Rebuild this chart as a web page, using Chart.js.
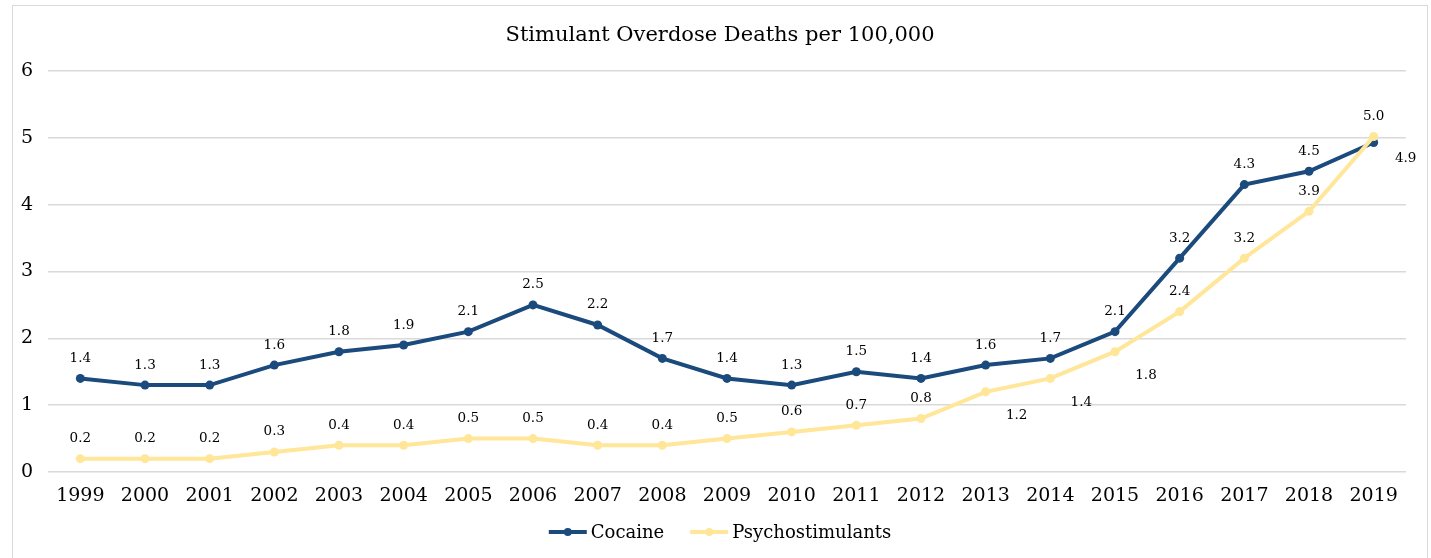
<!DOCTYPE html>
<html>
<head>
<meta charset="utf-8">
<script src="https://cdn.jsdelivr.net/npm/chart.js@4.4.0/dist/chart.umd.min.js"></script>
<style>
  html, body { margin: 0; padding: 0; background: #fff; overflow: hidden; }
  #frame { position: absolute; left: 12px; top: 5px; width: 1416px; height: 600px; border: 1px solid #d9d9d9; box-sizing: border-box; }
  #chart { position: absolute; left: 0; top: 0; }
</style>
</head>
<body>
<div id="frame"></div>
<canvas id="chart" width="1431" height="558"></canvas>
<script>
const years = ['1999', '2000', '2001', '2002', '2003', '2004', '2005', '2006', '2007', '2008',
  '2009', '2010', '2011', '2012', '2013', '2014', '2015', '2016', '2017', '2018', '2019'];
const cocaine = [1.4, 1.3, 1.3, 1.6, 1.8, 1.9, 2.1, 2.5, 2.2, 1.7, 1.4, 1.3, 1.5, 1.4, 1.6, 1.7, 2.1, 3.2, 4.3, 4.5, 4.93];
const psychostimulants = [0.2, 0.2, 0.2, 0.3, 0.4, 0.4, 0.5, 0.5, 0.4, 0.4, 0.5, 0.6, 0.7, 0.8, 1.2, 1.4, 1.8, 2.4, 3.2, 3.9, 5.02];
const yTicks = [0, 1, 2, 3, 4, 5, 6];
const chartTitle = 'Stimulant Overdose Deaths per 100,000';

// where each value label sits relative to its point
const cocaineLabelSide = years.map((y, i) => (i === years.length - 1 ? 'right' : 'above'));
const psychoLabelSide = years.map((y, i) => (i >= 14 && i <= 16 ? 'belowRight' : 'above'));

const NAVY = '#1b4a7d';
const GOLD = '#ffe699';
const SERIF = '"DejaVu Serif", "Liberation Serif", serif';
const FRAME_CENTER = 720; // middle of the bordered box, title and legend sit on it

function legendMarker(ctx, x, y, color) {
  ctx.strokeStyle = color;
  ctx.lineWidth = 4;
  ctx.beginPath();
  ctx.moveTo(x, y);
  ctx.lineTo(x + 38, y);
  ctx.stroke();
  ctx.fillStyle = color;
  ctx.beginPath();
  ctx.arc(x + 19, y, 4, 0, Math.PI * 2);
  ctx.fill();
}

const valueLabels = {
  id: 'valueLabels',
  afterDatasetsDraw(chart) {
    const ctx = chart.ctx;
    const sides = [cocaineLabelSide, psychoLabelSide];
    ctx.save();
    ctx.font = '13.5px ' + SERIF;
    ctx.fillStyle = '#000';
    ctx.textAlign = 'center';
    ctx.textBaseline = 'middle';
    chart.data.datasets.forEach((ds, i) => {
      const meta = chart.getDatasetMeta(i);
      meta.data.forEach((pt, j) => {
        let dx = 0, dy = -20;
        if (sides[i][j] === 'belowRight') { dx = 31; dy = 24; }
        if (sides[i][j] === 'right') { dx = 32; dy = 16; }
        ctx.fillText(ds.data[j].toFixed(1), pt.x + dx, pt.y + dy);
      });
    });
    ctx.restore();
  }
};

// title and legend drawn by hand so they centre on the frame like the original
const frameText = {
  id: 'frameText',
  afterDraw(chart) {
    const ctx = chart.ctx;
    ctx.save();
    ctx.fillStyle = '#000';
    ctx.textBaseline = 'middle';
    ctx.textAlign = 'center';
    ctx.font = '21px ' + SERIF;
    ctx.fillText(chartTitle, FRAME_CENTER, 36);

    ctx.textAlign = 'left';
    ctx.font = '18px ' + SERIF;
    const items = chart.data.datasets.map(ds => ({
      text: ds.label, color: ds.borderColor, w: ctx.measureText(ds.label).width
    }));
    let total = 0;
    items.forEach((it, k) => { total += 38 + 4 + it.w + (k ? 26 : 0); });
    let x = FRAME_CENTER - total / 2;
    const y = 532;
    items.forEach(it => {
      legendMarker(ctx, x, y, it.color);
      ctx.fillStyle = '#000';
      ctx.fillText(it.text, x + 42, y + 1);
      x += 42 + it.w + 26;
    });
    ctx.restore();
  }
};

const ctx = document.getElementById('chart').getContext('2d');
new Chart(ctx, {
  type: 'line',
  data: {
    labels: years,
    datasets: [
      {
        label: 'Cocaine',
        data: cocaine,
        borderColor: NAVY,
        backgroundColor: NAVY,
        pointBackgroundColor: NAVY,
        borderWidth: 4,
        pointRadius: 4.5,
        pointBorderWidth: 0,
        tension: 0,
        order: 1
      },
      {
        label: 'Psychostimulants',
        data: psychostimulants,
        borderColor: GOLD,
        backgroundColor: GOLD,
        pointBackgroundColor: GOLD,
        borderWidth: 4,
        pointRadius: 4.5,
        pointBorderWidth: 0,
        tension: 0,
        order: 0
      }
    ]
  },
  options: {
    responsive: false,
    animation: false,
    devicePixelRatio: 1,
    layout: { padding: { left: 12, right: 25, top: 71, bottom: 51 } },
    plugins: {
      legend: { display: false },
      tooltip: { enabled: false },
      title: { display: false }
    },
    scales: {
      x: {
        offset: true,
        grid: { display: false, drawTicks: false },
        border: { display: false },
        ticks: { color: '#000', font: { family: SERIF, size: 19 }, padding: 13, maxRotation: 0, autoSkip: false },
        afterFit(scale) { scale.height = 35; }
      },
      y: {
        min: 0,
        max: 6,
        afterBuildTicks(scale) { scale.ticks = yTicks.map(v => ({ value: v })); },
        grid: { color: '#d9d9d9', lineWidth: 1.5, drawTicks: false },
        border: { display: false },
        ticks: { color: '#000', font: { family: SERIF, size: 19 }, padding: 15 },
        afterFit(scale) { scale.width = 36; }
      }
    }
  },
  plugins: [valueLabels, frameText]
});
</script>
</body>
</html>
